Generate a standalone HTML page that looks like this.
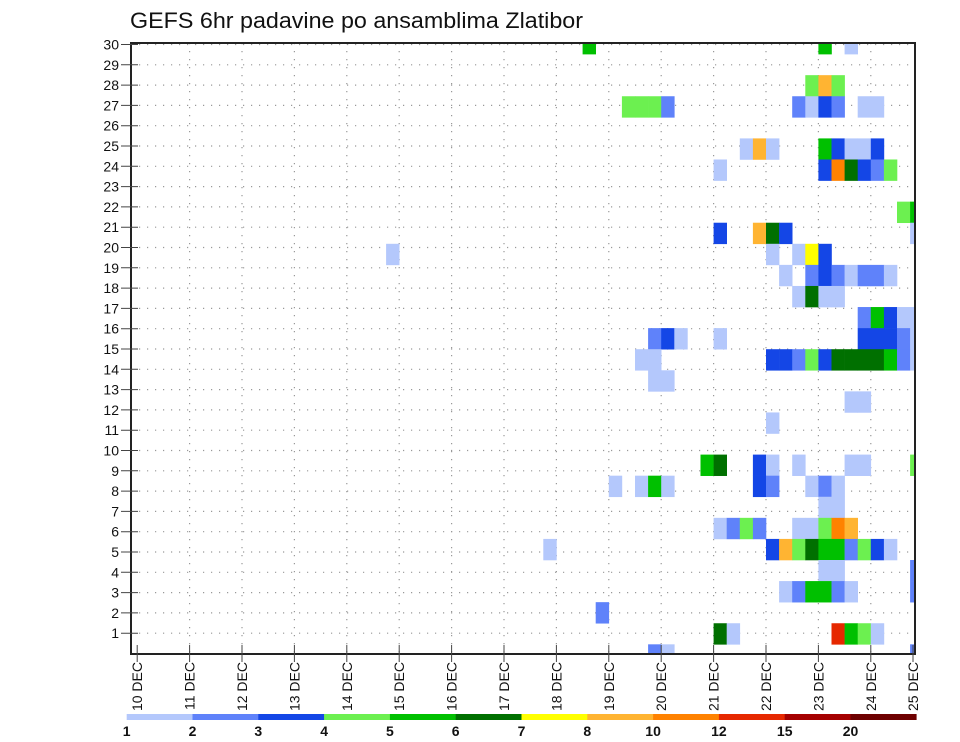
<!DOCTYPE html>
<html><head><meta charset="utf-8"><style>
html,body{margin:0;padding:0;background:#fff;}
svg{display:block;font-family:"Liberation Sans",sans-serif;}
</style></head><body>
<svg id="chart" width="960" height="742" viewBox="0 0 960 742" xmlns="http://www.w3.org/2000/svg">
<rect x="0" y="0" width="960" height="742" fill="#fff"/>
<text x="130" y="28" font-size="22" textLength="453" lengthAdjust="spacingAndGlyphs" fill="#111">GEFS 6hr padavine po ansamblima Zlatibor</text>
<defs><clipPath id="plotclip"><rect x="131" y="43" width="784" height="611"/></clipPath></defs>
<g id="grid"></g>
<g id="cells" clip-path="url(#plotclip)"></g>
<rect x="131" y="43" width="784" height="611" fill="none" stroke="#222" stroke-width="2"/>
<g id="yaxis"></g>
<g id="xaxis"></g>
<g id="legend"></g>
</svg>
<script>
// Data: ensemble member band index, 6-hour step from 10 DEC 00Z, precipitation (mm)
const member = [29,29,29, 27,27,27, 26,26,26,26,26,26,26,26,26,26, 24,24,24,24,24,24,24,24, 23,23,23,23,23,23,23, 21,21, 20,20,20,20,20, 19,19,19,19,19, 18,18,18,18,18,18,18,18, 17,17,17,17, 16,16,16,16,16, 15,15,15,15,15,15,15,15,15, 14,14,14,14,14,14,14,14,14,14,14,14,14,14, 13,13, 12,12, 11, 9,9,9,9,9,9,9,9, 8,8,8,8,8,8,8,8,8, 7,7, 6,6,6,6,6,6,6,6,6, 5,5,5,5,5,5,5,5,5,5,5, 4,4,4, 3,3,3,3,3,3,3, 2, 1,1,1,1,1,1, 0,0,0];
const step = [34,52,54, 51,52,53, 37,38,39,40,50,51,52,53,55,56, 46,47,48,52,53,54,55,56, 44,52,53,54,55,56,57, 58,59, 44,47,48,49,59, 19,48,50,51,52, 49,51,52,53,54,55,56,57, 50,51,52,53, 55,56,57,58,59, 39,40,41,44,55,56,57,58,59, 38,39,48,49,50,51,52,53,54,55,56,57,58,59, 39,40, 54,55, 48, 43,44,47,48,50,54,55,59, 36,38,39,40,47,48,51,52,53, 52,53, 44,45,46,47,50,51,52,53,54, 31,48,49,50,51,52,53,54,55,56,57, 52,53,59, 49,50,51,52,53,54,59, 35, 44,45,53,54,55,56, 39,40,59];
const precip = [5.5,5.5,1.5, 4.5,9,4.5, 4.5,4.5,4.5,2.5,2.5,1.5,3.5,2.5,1.5,1.5, 1.5,9,1.5,5.5,3.5,1.5,1.5,3.5, 1.5,3.5,11,6.5,3.5,2.5,4.5, 4.5,5.5, 3.5,9,6.5,3.5,1.5, 1.5,1.5,1.5,7.5,3.5, 1.5,2.5,3.5,2.5,1.5,2.5,2.5,1.5, 1.5,6.5,1.5,1.5, 2.5,5.5,3.5,1.5,1.5, 2.5,3.5,1.5,1.5,3.5,3.5,3.5,2.5,1.5, 1.5,1.5,3.5,3.5,2.5,4.5,3.5,6.5,6.5,6.5,6.5,5.5,2.5,1.5, 1.5,1.5, 1.5,1.5, 1.5, 5.5,6.5,3.5,1.5,1.5,1.5,1.5,4.5, 1.5,1.5,5.5,1.5,3.5,2.5,1.5,2.5,1.5, 1.5,1.5, 1.5,2.5,4.5,2.5,1.5,1.5,4.5,11,9, 1.5,3.5,9,4.5,6.5,5.5,5.5,2.5,4.5,3.5,1.5, 1.5,1.5,2.5, 1.5,2.5,5.5,5.5,2.5,1.5,2.5, 2.5, 6.5,1.5,13.5,5.5,4.5,1.5, 2.5,1.5,2.5];
const levels = [1,2,3,4,5,6,7,8,10,12,15,20];
const levelColors = ["#b4c8fc","#5f82fa","#1446e6","#6cf050","#00c000","#007000","#ffff00","#ffb432","#ff8200","#e62800","#a50000","#6e0000"];
const dayLabels = ["10","11","12","13","14","15","16","17","18","19","20","21","22","23","24","25"];
const yTicks = [1,2,3,4,5,6,7,8,9,10,11,12,13,14,15,16,17,18,19,20,21,22,23,24,25,26,27,28,29,30];

const NS = "http://www.w3.org/2000/svg";
const X0 = 137.2, STEPW = 13.1, BANDH = 21.08, BAND0 = 665.4;
function xStep(s){ return X0 + s*STEPW; }
function xDay(d){ return d === 15 ? 913 : X0 + d*4*STEPW; }
function yBandTop(m){ return BAND0 - (m+1)*BANDH; }
function yTick(k){ return 653.5 - 20.3*k; }
function colorFor(v){ let c = null; for(let i=0;i<levels.length;i++){ if(v>=levels[i]) c = levelColors[i]; } return c; }
function mk(tag, attrs, parent){ const e=document.createElementNS(NS,tag); for(const k in attrs) e.setAttribute(k,attrs[k]); parent.appendChild(e); return e; }

const grid = document.getElementById('grid');
yTicks.forEach(k=>{
  const l = mk('line',{x1:131,x2:915,y1:yTick(k),y2:yTick(k),stroke:'#999','stroke-width':1.2,'stroke-dasharray':'1.2,6.8'},grid);
  
  
});
dayLabels.forEach((d,i)=>{
  if(i===0||i===15) return;
  const l = mk('line',{x1:xDay(i),x2:xDay(i),y1:43,y2:654,stroke:'#999','stroke-width':1.2,'stroke-dasharray':'1.2,6.8'},grid);
  
  
});

const cells = document.getElementById('cells');
for(let i=0;i<member.length;i++){
  const r = mk('rect',{x:xStep(step[i]),y:yBandTop(member[i]),width:STEPW+0.3,height:BANDH+0.3,fill:colorFor(precip[i])},cells);
  
  
}

const ya = document.getElementById('yaxis');
yTicks.forEach(k=>{
  mk('line',{x1:121,x2:138,y1:yTick(k),y2:yTick(k),stroke:'#444','stroke-width':1},ya);
  const t = mk('text',{x:119,y:yTick(k)+5,'font-size':14,'text-anchor':'end',fill:'#111'},ya);
  t.textContent = k;
  
  
});

const xa = document.getElementById('xaxis');
dayLabels.forEach((d,i)=>{
  const x = xDay(i);
  mk('line',{x1:x,x2:x,y1:645,y2:662,stroke:'#444','stroke-width':1},xa);
  const t = mk('text',{x:0,y:0,'font-size':14,'text-anchor':'end',fill:'#111',transform:`translate(${x+5},662) rotate(-90)`},xa);
  t.textContent = d + '  DEC';
  
  
});

const lg = document.getElementById('legend');
const LX0 = 126.7, LW = 65.8;
levelColors.forEach((c,i)=>{
  const r = mk('rect',{x:LX0+i*LW,y:714,width:LW+0.3,height:6,fill:c},lg);
  
  
});
levels.forEach((v,i)=>{
  const t = mk('text',{x:LX0+i*LW,y:736,'font-size':14,'text-anchor':'middle',fill:'#111','font-weight':'bold'},lg);
  t.textContent = v;
  
  
});
</script>
</body></html>
